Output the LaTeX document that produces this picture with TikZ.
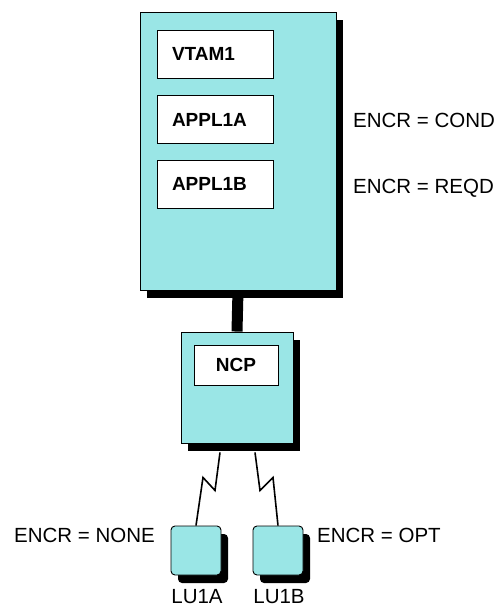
\documentclass[tikz,border=0pt]{standalone}
\usepackage{fontspec}
\setmainfont{Liberation Sans}
\usetikzlibrary{shadows}
\definecolor{hostcyan}{HTML}{9AE6E6}

\begin{document}
\begin{tikzpicture}[
    x=1pt, y=-1pt,
    unit/.style={draw, line width=0.9pt, fill=hostcyan, drop shadow={shadow xshift=7pt, shadow yshift=-8pt, fill=black, opacity=1}},
    app/.style={draw, line width=0.9pt, fill=white, minimum height=48pt, text width=86pt, inner xsep=15pt, align=left, font=\fontsize{19}{21}\selectfont\bfseries},
    encr/.style={font=\fontsize{20.5}{24}\selectfont, inner sep=0pt},
    link/.style={line width=1.6pt},
]
    \useasboundingbox (0,0) rectangle (495,606);

    % Host
    \node[unit, minimum width=196pt, minimum height=278pt] (host) at (238,151) {};
    \node[app] (vtam) at (215,54) {VTAM1};
    \node[app] (appla) at (215,119.5) {APPL1A};
    \node[app] (applb) at (215,184) {APPL1B};
    \node[encr, anchor=base west] (encra) at (353,127) {ENCR = COND};
    \node[encr, anchor=base west] (encrb) at (353,193) {ENCR = REQD};

    % NCP
    \node[unit, minimum width=112pt, minimum height=111pt] (ncp) at (237,387.5) {};
    \node[draw, line width=0.9pt, fill=white, minimum width=84pt, minimum height=40pt, font=\fontsize{19}{21}\selectfont\bfseries] (ncpname) at (236,365) {NCP};
    \draw[line width=11pt] (host.south) -- (ncp.north);

    % LUs
    \node[unit, rounded corners=4pt, minimum width=50pt, minimum height=49pt] (lua) at (196,550.5) {};
    \node[unit, rounded corners=4pt, minimum width=50pt, minimum height=49pt] (lub) at (278,550.5) {};
    \draw[link] (ncp.south) ++(-17,9) -- ++(-5,38) -- ++(-12,-13) -- (lua.north);
    \draw[link] (ncp.south) ++(18,9) -- ++(5,38) -- ++(13,-13) -- (lub.north);

    % Labels
    \node[encr, anchor=base east] (encrc) at (155,542) {ENCR = NONE};
    \node[encr, anchor=base west] (encrd) at (317,542) {ENCR = OPT};
    \node[encr, anchor=base] (luaname) at (197,603) {LU1A};
    \node[encr, anchor=base] (lubname) at (279,603) {LU1B};
\end{tikzpicture}
\end{document}
